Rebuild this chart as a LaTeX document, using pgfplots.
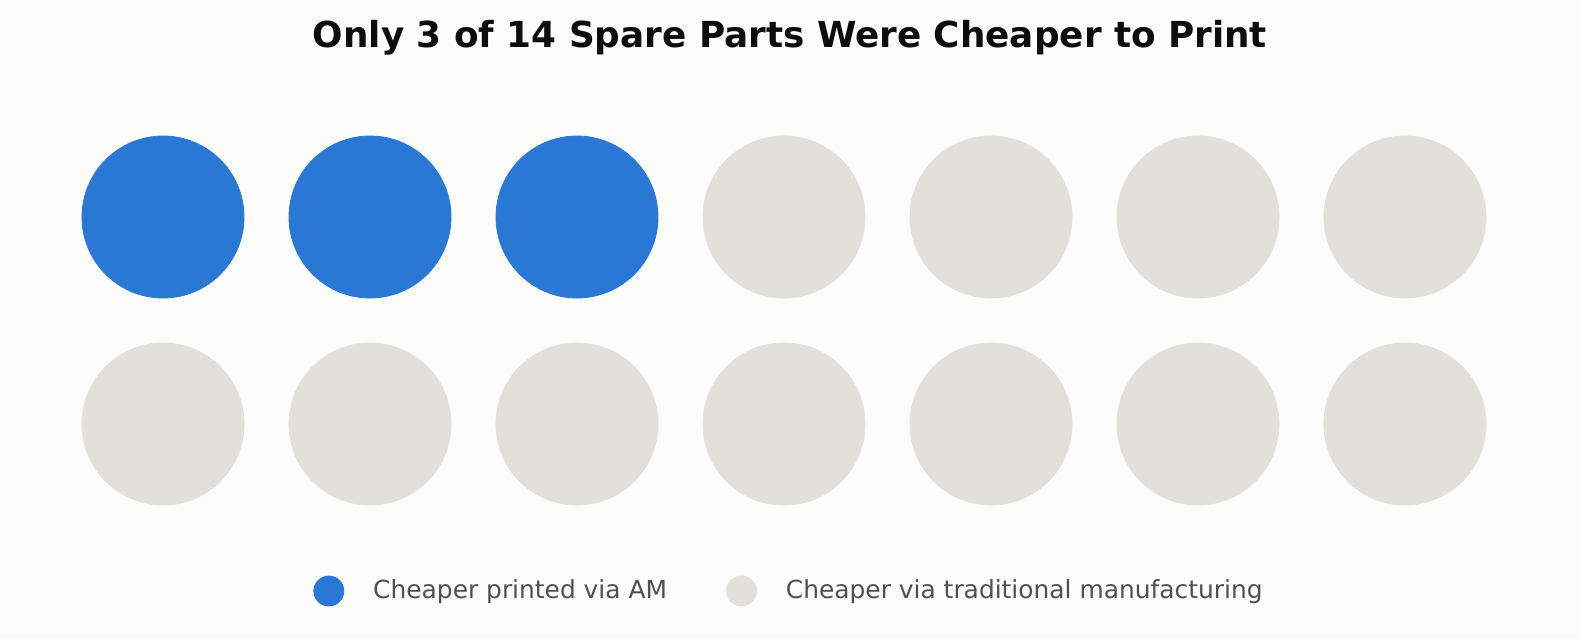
\documentclass[border=0pt]{standalone}
\usepackage{fontspec}
\setmainfont{DejaVu Sans}
\usepackage{pgfplots}
\pgfplotsset{compat=1.18}
\definecolor{bgcol}{RGB}{252,252,251}
\definecolor{amblue}{RGB}{42,120,214}
\definecolor{tradgray}{RGB}{225,224,219}
\definecolor{legtext}{RGB}{80,80,80}

\begin{document}%
\begin{tikzpicture}
\begin{axis}[
    name=ax,
    scale only axis,
    width=790pt, height=319.5pt,
    xmin=-0.7874, xmax=6.8454,
    ymin=-1.0483, ymax=2.0386,
    y dir=reverse,
    axis lines=none, ticks=none,
    axis background/.style={fill=bgcol},
    clip=false,
    legend columns=2,
    legend style={at={(rel axis cs:0.5,0.0751)}, anchor=center,
        draw=none, fill=none,
        font=\fontsize{12.45}{14}\selectfont, text=legtext,
        /tikz/every odd column/.append style={column sep=12.5pt},
        /tikz/every even column/.append style={column sep=27.5pt}},
]
% col, row (row 0 = top)
\addplot[only marks, mark=*, mark size=40.5pt, color=amblue,
    legend image code/.code={\fill[amblue] (0pt,0pt) circle (7.5pt);}]
  coordinates {(0,0) (1,0) (2,0)};
\addplot[only marks, mark=*, mark size=40.5pt, color=tradgray,
    legend image code/.code={\fill[tradgray] (0pt,0pt) circle (7.5pt);}]
  coordinates {(3,0) (4,0) (5,0) (6,0)
               (0,1) (1,1) (2,1) (3,1) (4,1) (5,1) (6,1)};
\legend{Cheaper printed via AM, Cheaper via traditional manufacturing}
\node[anchor=base, inner sep=0pt, text=black!95,
      font=\bfseries\fontsize{17.9}{20}\selectfont]
  at (rel axis cs:0.5,0.9249) {Only 3 of 14 Spare Parts Were Cheaper to Print};
\end{axis}
\pgfresetboundingbox
\path[use as bounding box] (ax.south west) rectangle (ax.north east);
\end{tikzpicture}%
\end{document}
